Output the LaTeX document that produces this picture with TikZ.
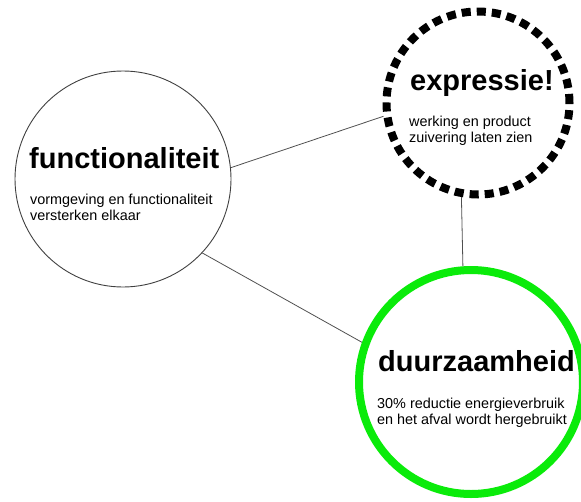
\documentclass[tikz,border=0pt]{standalone}
\usepackage{fontspec}
\setmainfont{Liberation Sans}
\definecolor{limegreen}{RGB}{10,235,10}
\definecolor{linegray}{RGB}{80,80,80}
\begin{document}
\begin{tikzpicture}[x=1pt,y=-1pt,
  ring/.style={circle, draw, inner sep=0pt},
  title/.style={anchor=base west, inner sep=0pt, font=\fontsize{29}{32}\selectfont\bfseries},
  body/.style={anchor=base west, inner sep=0pt, align=left, font=\fontsize{14.4}{15.5}\selectfont},
  link/.style={draw=linegray, line width=0.8pt}]
\useasboundingbox (0,0) rectangle (581,501);
\node[ring, draw=black!75, line width=0.9pt, minimum size=216pt] (c1) at (123,179) {};
\node[ring, draw=black, line width=8pt, minimum size=183pt, dash pattern=on 9.1pt off 6pt] (c2) at (478,103) {};
\node[ring, draw=limegreen, line width=8pt, minimum size=224pt] (c3) at (471,382) {};
\node[title] (t1) at (29,168) {functionaliteit};
\node[body] (b1) at (30,220) {vormgeving en functionaliteit\\versterken elkaar};
\node[title] (t2) at (410,90) {expressie!};
\node[body] (b2) at (409,142) {werking en product\\zuivering laten zien};
\node[title] (t3) at (378,371) {duurzaamheid};
\node[body] (b3) at (377,424) {30\% reductie energieverbruik\\en het afval wordt hergebruikt};
\draw[link] (c1.6) -- (c2.188.6);
\draw[link] (c1.-43) -- (c3.160.3);
\draw[link] (c2.260.4) -- (c3.94.4);
\end{tikzpicture}
\end{document}
